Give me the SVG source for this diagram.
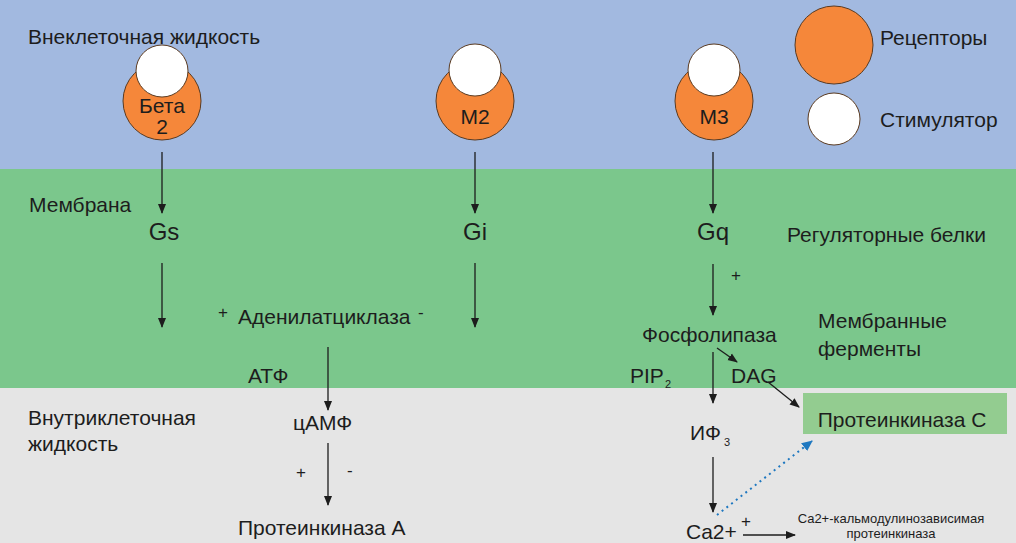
<svg xmlns="http://www.w3.org/2000/svg" width="1016" height="543" viewBox="0 0 1016 543">
<defs>
<style>
text{font-family:"Liberation Sans",Arial,sans-serif;fill:#1d1d1d;font-size:21px}
.big{font-size:24px}
.sm{font-size:13px}
.sub{font-size:11px}
.pm{font-size:17px}
.mid{text-anchor:middle}
.rec{fill:#f5873a;stroke:#5a3a20;stroke-width:1}
.stim{fill:#ffffff;stroke:#5a3a20;stroke-width:1}
.ln{stroke:#1d1d1d;stroke-width:1.3;fill:none;marker-end:url(#ah)}
.dot{stroke:#1f78c0;stroke-width:2;stroke-dasharray:2 4;fill:none;marker-end:url(#ahb)}
</style>
<marker id="ah" markerWidth="10" markerHeight="10" refX="9" refY="5" orient="auto" markerUnits="userSpaceOnUse"><path d="M0,1 L10,5 L0,9 Z" fill="#1d1d1d"/></marker>
<marker id="ahb" markerWidth="12" markerHeight="12" refX="10" refY="6" orient="auto" markerUnits="userSpaceOnUse"><path d="M0,1 L11,6 L0,11 Z" fill="#1f78c0"/></marker>
</defs>
<g id="bands">
<rect x="0" y="0" width="1016" height="169" fill="#a2b9e0"/>
<rect x="0" y="169" width="1016" height="219" fill="#7bc78c"/>
<rect x="0" y="388" width="1016" height="155" fill="#e5e5e5"/>
</g>
<g id="labels">
<text x="28" y="44">Внеклеточная жидкость</text>
<text x="29" y="212" font-size="20">Мембрана</text>
<text x="787" y="242">Регуляторные белки</text>
<text x="818" y="328">Мембранные</text>
<text x="818" y="356">ферменты</text>
<text x="28" y="425">Внутриклеточная</text>
<text x="28" y="451">жидкость</text>
</g>
<g id="legend">
<circle class="rec" cx="834" cy="45" r="39"/>
<text x="880" y="45">Рецепторы</text>
<circle class="stim" cx="834" cy="119" r="26"/>
<text x="880" y="127">Стимулятор</text>
</g>
<g id="beta2">
<circle class="rec" cx="162" cy="101" r="39"/>
<circle class="stim" cx="162" cy="71" r="26"/>
<text class="mid" x="162" y="113" font-size="18">Бета</text>
<text class="mid" x="162" y="134" font-size="18">2</text>
</g>
<g id="m2">
<circle class="rec" cx="475" cy="101" r="39"/>
<circle class="stim" cx="475" cy="70" r="26"/>
<text class="mid" x="475" y="124" font-size="20">M2</text>
</g>
<g id="m3">
<circle class="rec" cx="714" cy="101" r="39"/>
<circle class="stim" cx="714" cy="70" r="26"/>
<text class="mid" x="714" y="124" font-size="20">M3</text>
</g>
<g id="gs"><text class="big mid" x="164" y="240">Gs</text></g>
<g id="gi"><text class="big mid" x="475" y="240">Gi</text></g>
<g id="gq"><text class="big mid" x="713" y="240">Gq</text></g>
<g id="ac">
<text class="pm" x="218" y="318">+</text>
<text x="238" y="324">Аденилатциклаза</text>
<text class="pm" x="418" y="318">-</text>
</g>
<g id="atf"><text x="248" y="383">АТФ</text></g>
<g id="camp"><text x="293" y="430">цАМФ</text></g>
<g id="pka">
<text class="pm" x="296" y="478">+</text>
<text class="pm" x="347" y="476">-</text>
<text x="238" y="535">Протеинкиназа А</text>
</g>
<g id="plc">
<text class="pm" x="731" y="281">+</text>
<text x="642" y="342">Фосфолипаза</text>
</g>
<g id="pip2"><text x="630" y="383">PIP</text><text class="sub" x="665" y="388">2</text></g>
<g id="dag"><text x="731" y="383">DAG</text></g>
<g id="ip3"><text x="690" y="440">ИФ</text><text class="sub" x="724" y="446">3</text></g>
<g id="pkc">
<rect x="803" y="393" width="204" height="41" fill="#93cc90"/>
<text class="mid" x="902" y="427">Протеинкиназа С</text>
</g>
<g id="ca">
<text x="686" y="539">Ca2+</text>
<text class="pm" x="741" y="527">+</text>
</g>
<g id="camk">
<text class="sm mid" x="891" y="523">Ca2+-кальмодулинозависимая</text>
<text class="sm mid" x="891" y="538">протеинкиназа</text>
</g>
<g id="connectors">
<line class="ln" x1="162" y1="152" x2="162" y2="213"/>
<line class="ln" x1="162" y1="263" x2="162" y2="327"/>
<line class="ln" x1="475" y1="152" x2="475" y2="213"/>
<line class="ln" x1="475" y1="263" x2="475" y2="327"/>
<line class="ln" x1="713" y1="152" x2="713" y2="213"/>
<line class="ln" x1="713" y1="264" x2="713" y2="315"/>
<line class="ln" x1="328" y1="347" x2="328" y2="410"/>
<line class="ln" x1="328" y1="443" x2="328" y2="505"/>
<line class="ln" x1="717" y1="348" x2="737" y2="362"/>
<line class="ln" x1="713" y1="352" x2="713" y2="403"/>
<line class="ln" x1="768" y1="382" x2="799" y2="407"/>
<line class="ln" x1="713" y1="457" x2="713" y2="512"/>
<line class="ln" x1="743" y1="535" x2="795" y2="535"/>
<line class="dot" x1="717" y1="515" x2="812" y2="441"/>
</g>
</svg>
